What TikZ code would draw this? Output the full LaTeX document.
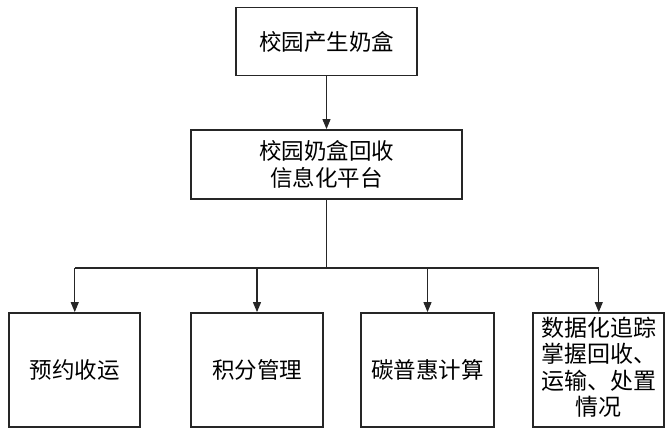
\documentclass[tikz,border=0pt]{standalone}
\usepackage{fontspec}
\newfontfamily\cjk{Noto Sans CJK SC}
\usetikzlibrary{arrows.meta}
\begin{document}
\begin{tikzpicture}[x=1pt,y=-1pt,
  box/.style={draw=black!85, line width=1.8pt, inner sep=0pt, align=center,
    font=\cjk\fontsize{22.5}{27}\selectfont},
  link/.style={draw=black!85, line width=1.1pt},
  arr/.style={link, -{Triangle[length=10pt,width=8pt]}}]
\useasboundingbox (0,0) rectangle (666,429);
\node[box, minimum width=181pt, minimum height=68pt] (top) at (326.5,41.5) {校园产生奶盒};
\node[box, minimum width=271pt, minimum height=69pt] (mid) at (326.5,164.5) {校园奶盒回收\\信息化平台};
\node[box, minimum width=131pt, minimum height=114pt] (b1) at (74.75,370) {预约收运};
\node[box, minimum width=132pt, minimum height=114pt] (b2) at (257,370) {积分管理};
\node[box, minimum width=133pt, minimum height=114pt] (b3) at (427.5,370) {碳普惠计算};
\node[box, minimum width=131pt, minimum height=114pt] (b4) at (598.75,370) {};
\node[inner sep=0pt, align=center, font=\cjk\fontsize{23}{26.5}\selectfont] (b4t) at ([yshift=3pt]b4.center) {数据化追踪\\掌握回收、\\运输、处置\\情况};
\coordinate (bus) at (326.5,268);
\draw[arr] (top.south) -- (mid.north);
\draw[link] (mid.south) -- (bus);
\draw[link] (b1.north |- bus) -- (b4.north |- bus);
\foreach \b in {b1,b2,b3,b4}{
  \draw[arr] (\b.north |- bus) -- (\b.north);
}
\end{tikzpicture}
\end{document}
